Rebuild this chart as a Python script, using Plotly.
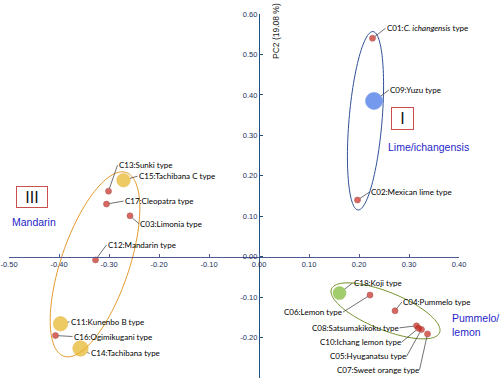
import numpy as np
import plotly.graph_objects as go

# ---------------- data ----------------
codes = ["C01", "C02", "C03", "C04", "C05", "C06", "C07", "C08", "C09",
         "C10", "C11", "C12", "C13", "C14", "C15", "C16", "C17", "C18"]
names = ["<i>C. ichangensis</i> type", "Mexican lime type", "Limonia type",
         "Pummelo type", "Hyuganatsu type", "Lemon type", "Sweet orange type",
         "Satsumakikoku type", "Yuzu type", "Ichang lemon type",
         "Kunenbo B type", "Mandarin type", "Sunki type", "Tachibana type",
         "Tachibana C type", "Ogimikugani type", "Cleopatra type", "Koji type"]
pc1 = [0.227, 0.197, -0.258, 0.272, 0.325, 0.222, 0.337, 0.315, 0.230,
       0.319, -0.397, -0.327, -0.301, -0.357, -0.271, -0.407, -0.305, 0.161]
pc2 = [0.540, 0.140, 0.101, -0.134, -0.180, -0.095, -0.191, -0.171, 0.385,
       -0.177, -0.166, -0.008, 0.162, -0.227, 0.189, -0.195, 0.130, -0.090]
kind = ["minor", "minor", "minor", "minor", "minor", "minor", "minor", "minor",
        "lime_core", "minor", "mand_core", "minor", "minor", "mand_core",
        "mand_core", "minor", "minor", "pum_core"]

x_ticks = [-0.5, -0.4, -0.3, -0.2, -0.1, 0.0, 0.1, 0.2, 0.3, 0.4]
x_tick_text = ["-0.50", "-0.40", "-0.30", "-0.20", "-0.10", "0.00", "0.10", "0.20", "0.30", "0.40"]
y_ticks = [-0.3, -0.2, -0.1, 0.0, 0.1, 0.2, 0.3, 0.4, 0.5, 0.6]
y_tick_text = ["-0.30", "-0.20", "-0.10", "0.00", "0.10", "0.20", "0.30", "0.40", "0.50", "0.60"]

x_title = "PC1 (36.47 %)"
y_title = "PC2 (19.08 %)"

# ---------------- layout / style ----------------
W, H = 500, 381
ML, MR, MT, MB = 9, 41, 14, 3
XR = [-0.5, 0.4]
YR = [-0.3, 0.6]
kx = (W - ML - MR) / (XR[1] - XR[0])   # px per unit
ky = (H - MT - MB) / (YR[1] - YR[0])

kind_style = {
    "minor": dict(color="#c8281e", line="#8a1a12"),
    "lime_core": dict(color="#3b6fe6", line="#3b6fe6"),
    "mand_core": dict(color="#e6b422", line="#e0aa1a"),
    "pum_core": dict(color="#7cb92e", line="#72ad28"),
}
size_map = {"C09": 17, "C11": 14.5, "C14": 15.5, "C15": 13.5, "C18": 13}
default_size = 6

# label offsets (px) of the text anchor relative to the point, and anchor side
label_pos = {
    "C01": (13, -10, "left"), "C02": (12, -8, "left"), "C03": (9, 8, "left"),
    "C04": (7, -9, "left"), "C05": (-15, 27, "right"), "C06": (-27, 17, "right"),
    "C07": (-8, 36, "right"), "C08": (-17, 2, "right"), "C09": (15, -11, "left"),
    "C10": (-17, 14, "right"), "C11": (9, -2, "left"), "C12": (11, -15, "left"),
    "C13": (9, -26, "left"), "C14": (9, 5, "left"), "C15": (14, -4, "left"),
    "C16": (17, 1, "left"), "C17": (17, -3, "left"), "C18": (13, -10, "left"),
}

fig = go.Figure()

# ellipses: (center x, center y in data units, semi-major px, semi-minor px, tilt deg, color)
ellipses = [
    (0.213, 0.336, 89.5, 16.5, 85.2, "#2f4f96"),
    (-0.328, -0.019, 97, 34, 71.25, "#e39a2c"),
    (0.253, -0.134, 58.3, 18.9, -22.0, "#74902a"),
]
t = np.linspace(0, 2 * np.pi, 121)
for cx, cy, a, b, ang, col in ellipses:
    ph = np.deg2rad(ang)
    dx = a * np.cos(t) * np.cos(ph) - b * np.sin(t) * np.sin(ph)
    dy = a * np.cos(t) * np.sin(ph) + b * np.sin(t) * np.cos(ph)
    xs = cx + dx / kx
    ys = cy + dy / ky
    path = "M " + " L ".join(f"{u:.5f},{v:.5f}" for u, v in zip(xs, ys)) + " Z"
    fig.add_shape(type="path", path=path, xref="x", yref="y",
                  line=dict(color=col, width=1.0), layer="below")

# points
for k in ["minor", "lime_core", "mand_core", "pum_core"]:
    idx = [i for i, kk in enumerate(kind) if kk == k]
    fig.add_trace(go.Scatter(
        x=[pc1[i] for i in idx], y=[pc2[i] for i in idx], mode="markers",
        marker=dict(color=kind_style[k]["color"],
                    size=[size_map.get(codes[i], default_size) for i in idx],
                    line=dict(color=kind_style[k]["line"], width=0.6)),
        hoverinfo="skip", showlegend=False))

# labels with connectors
for i, c in enumerate(codes):
    ax, ay, anc = label_pos[c]
    fig.add_annotation(
        x=pc1[i], y=pc2[i], xref="x", yref="y",
        text=f"{c}:{names[i]}", showarrow=True, arrowhead=0,
        arrowwidth=0.7, arrowcolor="#333333",
        ax=ax, ay=ay, xanchor=anc, yanchor="middle",
        standoff=size_map.get(c, default_size) / 2,
        borderpad=0,
        font=dict(family="Lato", size=8, color="#000000"))

# group names
group_font = dict(family="Liberation Sans, Arial", size=10.5, color="#1f1fc8")
fig.add_annotation(x=0.254, y=0.270, text="Lime/ichangensis", showarrow=False,
                   xanchor="left", yanchor="middle", font=group_font)
fig.add_annotation(x=-0.498, y=0.085, text="Mandarin", showarrow=False,
                   xanchor="left", yanchor="middle", font=group_font)
fig.add_annotation(x=0.382, y=-0.169, text="Pummelo/<br>lemon", showarrow=False,
                   xanchor="left", yanchor="middle", align="left", font=group_font)

# roman numeral boxes
box_font = dict(family="Liberation Sans, Arial", size=16, color="#111111")
for txt, bx, by, bw, bh in [("I", 0.287, 0.341, 21, 21),
                            ("III", -0.454, 0.148, 30, 20),
                            ("II", 0.417, -0.063, 35, 21)]:
    fig.add_annotation(x=bx, y=by, text=txt, showarrow=False,
                       xanchor="center", yanchor="middle",
                       width=bw, height=bh, bordercolor="#c9504d",
                       borderwidth=1, borderpad=0, bgcolor="white",
                       font=box_font)

# axis titles
title_font = dict(family="Liberation Sans, Arial", size=8.5, color="#1a1a1a")
fig.add_annotation(x=0.404, y=0.029, text=x_title, showarrow=False,
                   xanchor="center", yanchor="middle", font=title_font)
fig.add_annotation(x=0.034, y=0.558, text=y_title, showarrow=False,
                   textangle=-90, xanchor="center", yanchor="middle", font=title_font)

tick_font = dict(family="Liberation Sans, Arial", size=7.5, color="#22305a")
fig.update_layout(
    width=W, height=H, autosize=False,
    margin=dict(l=ML, r=MR, t=MT, b=MB, autoexpand=False),
    paper_bgcolor="white", plot_bgcolor="white",
    xaxis=dict(range=XR, anchor="free", position=(0 - YR[0]) / (YR[1] - YR[0]),
               showgrid=False, zeroline=False, showline=True, automargin=False,
               linecolor="#4d5b92", linewidth=1.3,
               tickmode="array", tickvals=x_ticks, ticktext=x_tick_text,
               ticks="inside", ticklen=3, tickcolor="#4d5b92",
               tickfont=tick_font, fixedrange=True),
    yaxis=dict(range=YR, anchor="free", position=(0 - XR[0]) / (XR[1] - XR[0]),
               showgrid=False, zeroline=False, showline=True, automargin=False,
               linecolor="#1f4f82", linewidth=1.3,
               tickmode="array", tickvals=y_ticks, ticktext=y_tick_text,
               ticks="inside", ticklen=3, tickcolor="#1f4f82",
               tickfont=tick_font, fixedrange=True),
    showlegend=False,
)

fig.write_html("out.html", config={"displayModeBar": False},
               post_script="document.body.style.margin='0';document.body.style.padding='0';")
